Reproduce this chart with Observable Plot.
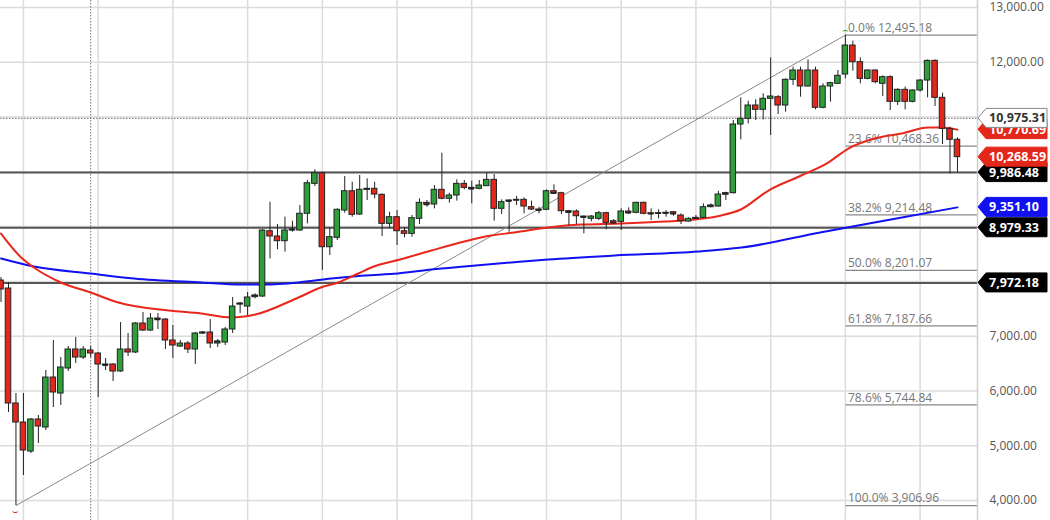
<!DOCTYPE html>
<html>
<head>
<meta charset="utf-8">
<script src="https://cdn.jsdelivr.net/npm/d3@7"></script>
<script src="https://cdn.jsdelivr.net/npm/@observablehq/plot@0.6"></script>
<style>
  html, body { margin: 0; padding: 0; background: #fff; }
  #chart { width: 1050px; height: 520px; overflow: hidden; }
  svg { font-family: "Open Sans", "Noto Sans", sans-serif; }
</style>
</head>
<body>
<div id="chart"></div>
<script>
// ---- candle data (one entry per session, left to right) ----
const opens = [8016,7870,5771,5424,4894,5479,5333,6245,5953,6410,6757,6610,6738,6683,6483,6483,6355,6757,6702,7231,7103,7322,7304,6921,6811,6866,6757,7049,7067,6866,6884,7122,7578,7541,7712,7724,8916,8820,8734,8929,8929,9234,9781,9975,8624,8796,9294,9646,9221,9672,9690,9581,9050,9172,8916,8868,9142,9434,9404,9672,9508,9568,9781,9708,9690,9738,9854,9325,9477,9477,9489,9355,9312,9307,9646,9610,9282,9276,9184,9142,9142,9245,9099,9087,9276,9252,9434,9245,9234,9252,9263,9203,9093,9142,9160,9355,9367,9581,9610,10864,10968,11211,11132,11333,11363,11211,11680,11850,11558,11850,11169,11558,11607,11777,12306,12002,11698,11850,11607,11728,11278,11497,11278,11485,11667,12026,11351,10785,10585];
const highs = [8071,7980,5953,5953,5497,5552,6373,6921,6610,6811,6976,6811,6811,6702,6592,6500,7249,7049,7249,7432,7414,7414,7320,7195,6921,6903,7067,7085,7304,6939,7158,7706,7614,7797,7773,8947,9445,9038,9172,9099,9385,9842,10037,9993,8978,9325,9915,9810,9933,9872,9810,9598,9263,9294,8978,9203,9508,9477,9750,10340,9610,9854,9842,9830,9842,9975,9951,9489,9489,9550,9526,9465,9355,9672,9763,9628,9294,9307,9196,9203,9276,9263,9130,9325,9343,9446,9446,9325,9307,9294,9276,9234,9160,9203,9416,9416,9646,9628,10937,11351,11289,11315,11424,12081,11393,11698,11911,11911,12044,11911,11607,11637,11850,12495.18,12385,12081,11862,11862,11753,11753,11515,11546,11497,11686,12044,12044,11436,10815,10621];
const lows = [7614,5606,3906.96,4456,4858,5041,5278,5698,5734,6355,6501,6574,6610,5880,6373,6172,6340,6629,6683,7085,7085,7122,6757,6592,6793,6683,6483,7030,6775,6793,6830,7049,7414,7377,7682,7706,8412,8577,8533,8898,8916,9050,9732,8199,8473,8746,9245,9172,9203,9477,9508,8819,8960,8655,8796,8807,9038,9355,9325,9489,9428,9465,9672,9416,9672,9732,9099,9221,8898,9385,9234,9294,9234,9294,9598,9221,9020,9038,8868,9087,9111,8941,9063,8929,9221,9234,9215,9111,9142,9172,9190,9038,9087,9130,9142,9343,9355,9477,9598,10585,10876,10937,10949,10663,11047,11089,11576,11363,11546,11132,11150,11271,11607,11698,11837,11607,11680,11607,11375,11120,11211,11132,11260,11455,11351,11193,10499,9964,9986];
const closes = [7852,5771,5424,4913,5479,5351,6245,5972,6428,6757,6610,6757,6683,6483,6470,6355,6757,6702,7231,7103,7322,7304,6921,6830,6866,6757,7049,7067,6866,6903,7122,7541,7596,7706,7742,8929,8820,8734,8929,8947,9234,9792,9975,8624,8807,9307,9646,9215,9672,9690,9586,9050,9172,8916,8868,9154,9434,9404,9672,9508,9568,9781,9708,9690,9750,9854,9325,9446,9465,9489,9367,9312,9300,9646,9610,9282,9263,9190,9172,9184,9245,9069,9069,9276,9252,9434,9234,9234,9245,9245,9234,9099,9142,9160,9355,9385,9586,9610,10864,10968,11211,11132,11333,11375,11211,11680,11850,11558,11850,11169,11558,11619,11753,12306,12002,11698,11850,11637,11728,11278,11497,11278,11485,11667,12026,11351,10785,10585,10268.59];

// ---- moving averages (session index, value) ----
const redMaIdx = [0,2.7,4.4,8,12,15.7,22.4,26.8,30.8,33.9,39.8,42.8,45.1,47.8,49.9,53.9,57.6,62,65.6,68.7,73.2,77.6,83,88.8,92.8,96.4,99,102.7,107.1,110.7,113.4,116.9,120.5,124.1,125.8,128];
const redMaVal = [8874,8436,8253,7980,7797,7614,7468,7414,7341,7390,7706,7888,7980,8144,8272,8418,8564,8728,8838,8892,8984,9038,9057,9093,9130,9203,9312,9659,9933,10170,10426,10608,10700,10809,10809,10770.69];
const blueMaIdx = [0,4.4,12,17.8,26.8,32.1,35.2,39.8,44.2,48.6,53.1,57.6,62,68.3,73.2,82.1,93.3,99.1,109.8,119.1,128];
const blueMaVal = [8418,8272,8144,8053,7980,7943,7943,7980,8053,8107,8144,8217,8272,8345,8399,8472,8545,8618,8898,9130,9351.10];

// ---- levels ----
const fibPct = ["0.0%","23.6%","38.2%","50.0%","61.8%","78.6%","100.0%"];
const fibVal = [12495.18,10468.36,9214.48,8201.07,7187.66,5744.84,3906.96];
const supportVal = [9986.48,8979.33,7972.18];
const crosshairVal = 10975.31;
const crosshairIdx = 12;
const yTicks = [4000,5000,6000,7000,12000,13000];
const yGrid = [4000,5000,6000,7000,8000,9000,10000,11000,12000,13000];
const xGrid = [3,13,23,33,43,53,63,73,83,93,103,113,123];

// price tags on the right axis: value, label, fill, text colour, border
const tagVal   = [9986.48, 10268.59, 10770.69, 10975.31, 9351.10, 8979.33, 7972.18];
const tagLabel = ["9,986.48","10,268.59","10,770.69","10,975.31","9,351.10","8,979.33","7,972.18"];
const tagFill  = ["#000","#e4271b","#e4271b","#fff","#1010f0","#000","#000"];
const tagText  = ["#fff","#fff","#fff","#333","#fff","#fff","#fff"];
const tagLine  = ["#000","#e4271b","#e4271b","#888","#1010f0","#000","#000"];

const GREEN = "#2e9e3a", RED = "#e4271b";

const candles = opens.map((o, i) => ({i, open: o, high: highs[i], low: lows[i], close: closes[i]}));
const redMa = redMaIdx.map((x, k) => ({x, v: redMaVal[k]}));
const blueMa = blueMaIdx.map((x, k) => ({x, v: blueMaVal[k]}));

const lowIdx = lows.indexOf(d3.min(lows));
const highIdx = highs.indexOf(d3.max(highs));
const trend = [{x1: lowIdx, y1: lows[lowIdx], x2: highIdx, y2: highs[highIdx]}];
const xMax = candles.length - 1 + 2.68;
const fib = fibVal.map((v, k) => ({v, label: fibPct[k] + " " + d3.format(",.2f")(v)}));

const plot = Plot.plot({
  width: 1050, height: 520,
  marginLeft: 0, marginRight: 73, marginTop: 0, marginBottom: 0,
  x: {domain: [-0.07, xMax], axis: null},
  y: {domain: [3635, 13128], axis: null},
  color: {type: "identity"},
  marks: [
    Plot.ruleY(yGrid, {stroke: "#dcdcdc", strokeWidth: 1.5}),
    Plot.ruleX(xGrid, {stroke: "#dcdcdc", strokeWidth: 1.5}),
    Plot.ruleX([crosshairIdx], {stroke: "#777", strokeWidth: 1, strokeDasharray: "1.5,1.5"}),
    Plot.ruleY([crosshairVal], {stroke: "#888", strokeWidth: 1.3, strokeDasharray: "1.5,1.5"}),
    Plot.ruleY(supportVal, {stroke: "#555", strokeWidth: 2}),
    Plot.ruleY(fib, {y: "v", x1: highIdx + 0.1, x2: xMax, stroke: "#888", strokeWidth: 1.2}),
    Plot.text(fib, {y: "v", x: highIdx + 0.35, text: "label", dy: -7, textAnchor: "start", fill: "#777", fontSize: 12}),
    Plot.link(trend, {x1: "x1", y1: "y1", x2: "x2", y2: "y2", stroke: "#8a8a8a", strokeWidth: 1}),
    Plot.line(blueMa, {x: "x", y: "v", stroke: "#1010f0", strokeWidth: 2, curve: "monotone-x"}),
    Plot.line(redMa, {x: "x", y: "v", stroke: "#e8281c", strokeWidth: 2, curve: "monotone-x"}),
    Plot.ruleX(candles, {x: "i", y1: "low", y2: "high", stroke: "#222", strokeWidth: 1}),
    Plot.rect(candles, {x1: d => d.i - 0.37, x2: d => d.i + 0.37, y1: "open", y2: "close",
      fill: d => d.close >= d.open ? GREEN : RED, stroke: "#222", strokeWidth: 1}),
    Plot.ruleY(candles.filter(d => Math.abs(d.close - d.open) < 40),
      {y: "close", x1: d => d.i - 0.37, x2: d => d.i + 0.37, stroke: "#222", strokeWidth: 1.5}),
    Plot.text([candles[lowIdx]], {x: "i", y: "low", text: () => "\u2323", dy: 6, fill: RED, fontSize: 10}),
    Plot.text([candles[highIdx]], {x: "i", y: "high", text: () => "\u2322", dy: -5, fill: GREEN, fontSize: 10}),
    Plot.ruleX([xMax], {stroke: "#d0d0d0", strokeWidth: 1.5}),
    Plot.axisY(yTicks, {anchor: "right", tickSize: 0, tickPadding: 12, tickFormat: d3.format(",.2f"),
      fontSize: 12, color: "#555", fill: "#555"})
  ]
});

document.getElementById("chart").appendChild(plot);

// price tags, positioned through the plot's own y scale
const ys = plot.scale("y");
const xs = plot.scale("x");
const x0 = xs.apply(xMax);
const svg = d3.select(plot);
const g = svg.append("g").attr("text-anchor", "start");
tagVal.forEach((v, k) => {
  const cy = ys.apply(v);
  const h = 9.5;
  g.append("path")
    .attr("d", `M${x0 + 1},${cy} L${x0 + 9},${cy - h} L${x0 + 70},${cy - h} L${x0 + 70},${cy + h} L${x0 + 9},${cy + h} Z`)
    .attr("fill", tagFill[k]).attr("stroke", tagLine[k]).attr("stroke-width", 1).attr("stroke-linejoin", "round");
  g.append("text")
    .attr("x", x0 + 12).attr("y", cy).attr("dy", "0.36em")
    .attr("text-anchor", "start")
    .attr("fill", tagText[k]).attr("font-size", 12.5).attr("font-weight", 700)
    .attr("font-family", "'Open Sans', sans-serif")
    .text(tagLabel[k]);
});
</script>
</body>
</html>
